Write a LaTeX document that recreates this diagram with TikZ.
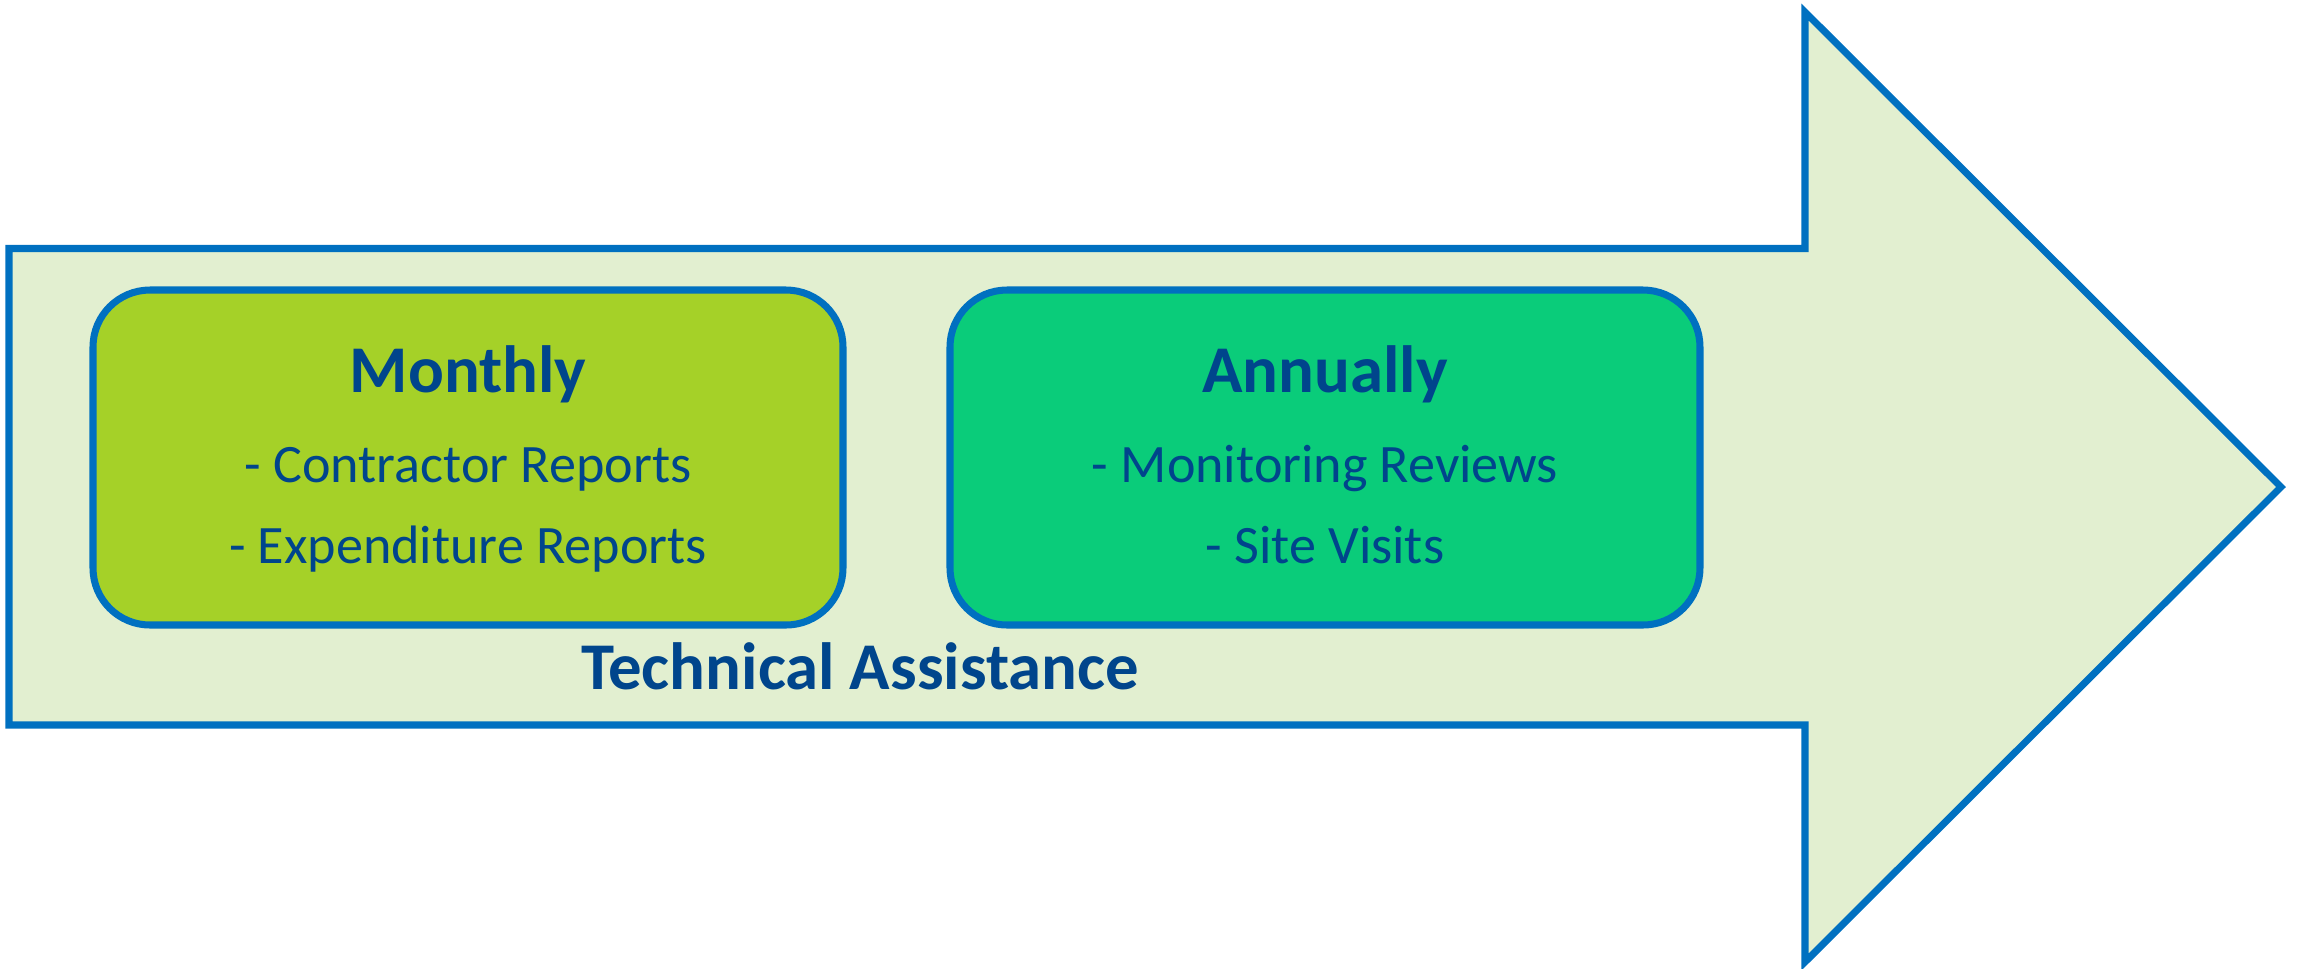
\documentclass[tikz,border=0pt]{standalone}
\usepackage{fontspec}
\setmainfont{Carlito}
\usetikzlibrary{calc}

\definecolor{arrowline}{RGB}{0,112,192}
\definecolor{arrowfill}{RGB}{226,239,208}
\definecolor{monthfill}{RGB}{165,209,40}
\definecolor{yearfill}{RGB}{10,204,122}
\definecolor{textblue}{RGB}{0,69,140}

\begin{document}
\begin{tikzpicture}[x=0.1mm,y=-0.1mm,
    period/.style={draw=arrowline,line width=2pt,rounded corners=5.7mm,
      minimum width=7.5cm,minimum height=3.35cm,inner sep=0pt},
    heading/.style={text=textblue,font=\fontsize{19}{23}\selectfont\bfseries,anchor=base,inner sep=0pt},
    item/.style={text=textblue,font=\fontsize{15.4}{18}\selectfont,anchor=base,inner sep=0pt}]
    \useasboundingbox (0,0) rectangle (2297,968);
    % Arrow.
    \filldraw[fill=arrowfill,draw=arrowline,line width=2pt,miter limit=4]
      (9,248.5) -- (1805,248.5) -- (1805,12) -- (2281,487)
      -- (1805,962) -- (1805,725) -- (9,725) -- cycle;
    % Boxes.
    \node[period,fill=monthfill] (monthly) at (468,457.5) {};
    \node[period,fill=yearfill] (annually) at (1325,457.5) {};
    % Texts.
    \node[heading] (monthlyhead) at (468,392) {Monthly};
    \node[item] (contractor) at (468,482) {- Contractor Reports};
    \node[item] (expenditure) at (468,563) {- Expenditure Reports};
    \node[heading] (annuallyhead) at (1325,392) {Annually};
    \node[item] (monitoring) at (1325,482) {- Monitoring Reviews};
    \node[item] (visits) at (1325,563) {- Site Visits};
    \node[heading] (assistance) at (860,689) {Technical Assistance};
\end{tikzpicture}
\end{document}
